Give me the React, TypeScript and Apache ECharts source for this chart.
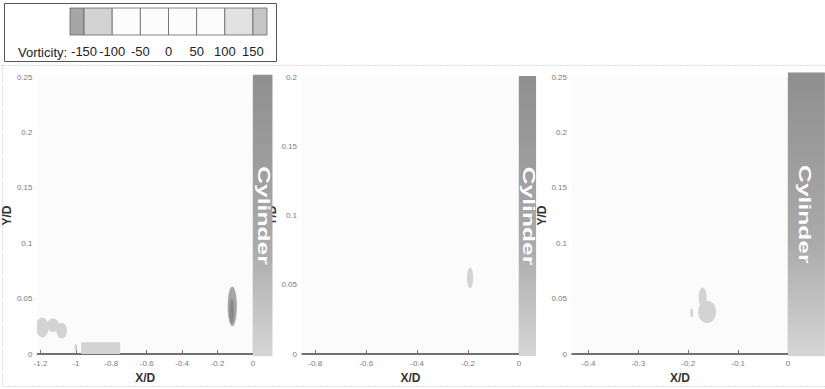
import React, { useEffect, useRef } from "react";
import * as echarts from "echarts";

// ---- data ----
const levels = [-175, -150, -100, -50, 0, 50, 100, 150, 175];
const levelColors = ["#a6a6a6", "#d3d3d3", "#fcfcfc", "#fcfcfc", "#fcfcfc", "#fcfcfc", "#e2e2e2", "#c6c6c6"];
const legendTicks = [-150, -100, -50, 0, 50, 100, 150];

const panelXMin = [-1.217, -0.852, -0.433];
const panelYMax = [0.25, 0.2, 0.25];
const panelXTicks = [
  [-1.2, -1, -0.8, -0.6, -0.4, -0.2, 0],
  [-0.8, -0.6, -0.4, -0.2, 0],
  [-0.4, -0.3, -0.2, -0.1, 0],
];
const yTickStep = 0.05;

// vortex blobs: [xCenter, yCenter, xRadius, yRadius, vorticity]
const blobs1 = [
  [-0.117, 0.043, 0.026, 0.018, -160],
  [-0.12, 0.039, 0.013, 0.011, -185],
  [-1.19, 0.024, 0.035, 0.009, -120],
  [-1.13, 0.026, 0.035, 0.006, -120],
  [-1.08, 0.021, 0.03, 0.007, -120],
  [-1.0, 0.006, 0.009, 0.003, -120],
];
const blobs2 = [[-0.192, 0.055, 0.012, 0.0075, -125]];
const blobs3 = [
  [-0.171, 0.051, 0.008, 0.009, -120],
  [-0.162, 0.038, 0.018, 0.01, -120],
  [-0.193, 0.037, 0.003, 0.004, -120],
];
// rectangular patches: [x0, y0, x1, y1, vorticity]
const patches1 = [[-0.97, 0, -0.75, 0.0105, -120]];
const patches2: number[][] = [];
const patches3: number[][] = [];

// cylinder: [xStart, xEnd, yBottom, yTop, labelX]
const cylinders = [
  [0, 0.11, -0.002, 0.252, 0.064],
  [0, 0.067, -0.0015, 0.2007, 0.039],
  [0, 0.074, -0.002, 0.254, 0.034],
];

const panelBlobs = [blobs1, blobs2, blobs3];
const panelPatches = [patches1, patches2, patches3];

const gridBoxes = [
  { left: 32, top: 77, width: 221, height: 283 },
  { left: 302, top: 77, width: 217, height: 283 },
  { left: 572, top: 77, width: 216, height: 283 },
];
const yNameGaps = [11, 21, 21];

function colorFor(v: number): string {
  if (v < levels[0]) return "#8a8a8a";
  for (let i = 0; i < levels.length - 1; i++) {
    if (v >= levels[i] && v < levels[i + 1]) return levelColors[i];
  }
  return "#b0b0b0";
}

const fmt = (v: number) => String(+v.toFixed(3));

export default function App() {
  const ref = useRef<HTMLDivElement>(null);
  useEffect(() => {
    if (!ref.current) return;
    const chart = echarts.init(ref.current, undefined, { renderer: "svg" });

    const grids: any[] = [];
    const xAxes: any[] = [];
    const yAxes: any[] = [];
    const series: any[] = [];

    for (let p = 0; p < 3; p++) {
      grids.push({ ...gridBoxes[p], show: true, backgroundColor: "#fbfbfb", borderWidth: 0 });
      xAxes.push({
        type: "value",
        gridIndex: p,
        min: panelXMin[p],
        max: 0,
        name: "X/D",
        nameLocation: "middle",
        nameGap: 18,
        nameTextStyle: { fontWeight: "bold", fontSize: 12, color: "#333", fontFamily: "Liberation Sans" },
        axisLine: { show: true, lineStyle: { color: "#444", width: 1.5 } },
        axisTick: { show: true, inside: true, length: 4, customValues: panelXTicks[p], lineStyle: { color: "#777" } },
        axisLabel: {
          customValues: panelXTicks[p],
          formatter: (v: number) => fmt(v),
          fontSize: 8,
          color: "#7a7a7a",
          margin: 5,
          fontFamily: "Liberation Sans",
        },
        splitLine: { show: false },
      });
      yAxes.push({
        type: "value",
        gridIndex: p,
        min: 0,
        max: panelYMax[p],
        interval: yTickStep,
        name: "Y/D",
        nameLocation: "middle",
        nameGap: yNameGaps[p],
        nameTextStyle: { fontWeight: "bold", fontSize: 12, color: "#333", fontFamily: "Liberation Sans" },
        axisLine: { show: true, lineStyle: { color: "#444", width: 1.2 } },
        axisTick: { show: true, inside: true, length: 4, lineStyle: { color: "#777" } },
        axisLabel: {
          formatter: (v: number) => fmt(v),
          fontSize: 8,
          color: "#7a7a7a",
          margin: 5,
          fontFamily: "Liberation Sans",
        },
        splitLine: { show: false },
      });

      series.push({
        type: "custom",
        xAxisIndex: p,
        yAxisIndex: p,
        clip: true,
        silent: true,
        data: panelPatches[p],
        renderItem: (params: any, api: any) => {
          const a = api.coord([api.value(0), api.value(3)]);
          const b = api.coord([api.value(2), api.value(1)]);
          return {
            type: "rect",
            shape: { x: a[0], y: a[1], width: b[0] - a[0], height: b[1] - a[1] },
            style: { fill: colorFor(api.value(4)) },
          };
        },
      });
      series.push({
        type: "custom",
        xAxisIndex: p,
        yAxisIndex: p,
        clip: true,
        silent: true,
        data: panelBlobs[p],
        renderItem: (params: any, api: any) => {
          const c = api.coord([api.value(0), api.value(1)]);
          const s = api.size([api.value(2), api.value(3)]);
          return {
            type: "ellipse",
            shape: { cx: c[0], cy: c[1], rx: s[0], ry: s[1] },
            style: { fill: colorFor(api.value(4)) },
          };
        },
      });
      series.push({
        type: "custom",
        xAxisIndex: p,
        yAxisIndex: p,
        clip: false,
        silent: true,
        z: 5,
        data: [cylinders[p]],
        renderItem: (params: any, api: any) => {
          const a = api.coord([api.value(0), api.value(3)]);
          const b = api.coord([api.value(1), api.value(2)]);
          const t = api.coord([api.value(4), 0]);
          return {
            type: "group",
            children: [
              {
                type: "rect",
                shape: { x: a[0], y: a[1], width: b[0] - a[0], height: b[1] - a[1] },
                style: {
                  fill: new echarts.graphic.LinearGradient(0, 0, 0, 1, [
                    { offset: 0, color: "#8f8f8f" },
                    { offset: 0.6, color: "#aaaaaa" },
                    { offset: 1, color: "#d6d6d6" },
                  ]),
                },
              },
              {
                type: "text",
                x: t[0],
                y: (a[1] + b[1]) / 2,
                rotation: -Math.PI / 2,
                scaleX: 1.12,
                scaleY: 0.78,
                style: {
                  text: "Cylinder",
                  fill: "#ffffff",
                  stroke: "#9a9a9a",
                  lineWidth: 0.5,
                  font: 'bold 22px "Liberation Sans"',
                  align: "center",
                  verticalAlign: "middle",
                },
              },
            ],
          };
        },
      });
    }

    // legend colorbar grid
    grids.push({ left: 70, top: 8, width: 197, height: 27 });
    xAxes.push({
      type: "value",
      gridIndex: 3,
      min: levels[0],
      max: levels[levels.length - 1],
      axisLine: { show: false },
      axisTick: { show: false },
      splitLine: { show: false },
      axisLabel: {
        customValues: legendTicks,
        fontSize: 13,
        color: "#222",
        margin: 10,
        fontFamily: "Liberation Sans",
      },
    });
    yAxes.push({ type: "value", gridIndex: 3, min: 0, max: 1, show: false });
    series.push({
      type: "custom",
      xAxisIndex: 3,
      yAxisIndex: 3,
      silent: true,
      data: levels.slice(0, -1).map((l, i) => [l, levels[i + 1], i]),
      renderItem: (params: any, api: any) => {
        const a = api.coord([api.value(0), 1]);
        const b = api.coord([api.value(1), 0]);
        return {
          type: "rect",
          shape: { x: a[0], y: a[1], width: b[0] - a[0], height: b[1] - a[1] },
          style: { fill: levelColors[api.value(2)], stroke: "#666", lineWidth: 0.8 },
        };
      },
    });

    chart.setOption({
      animation: false,
      backgroundColor: "#ffffff",
      grid: grids,
      xAxis: xAxes,
      yAxis: yAxes,
      series,
      graphic: [
        {
          type: "rect",
          shape: { x: 4.5, y: 3.5, width: 272, height: 58 },
          style: { fill: "none", stroke: "#555", lineWidth: 1 },
          silent: true,
        },
        {
          type: "rect",
          shape: { x: 2.5, y: 65.5, width: 830, height: 321 },
          style: { fill: "none", stroke: "#bbb", lineWidth: 1, lineDash: [1, 2] },
          silent: true,
        },
        {
          type: "text",
          x: 18,
          y: 52,
          style: {
            text: "Vorticity:",
            font: '13px "Liberation Sans"',
            fill: "#222",
            verticalAlign: "middle",
          },
          silent: true,
        },
      ],
    });
    return () => chart.dispose();
  }, []);
  return (
    <div
      ref={ref}
      style={{ position: "fixed", left: 0, top: 0, width: 825, height: 389 }}
    />
  );
}
